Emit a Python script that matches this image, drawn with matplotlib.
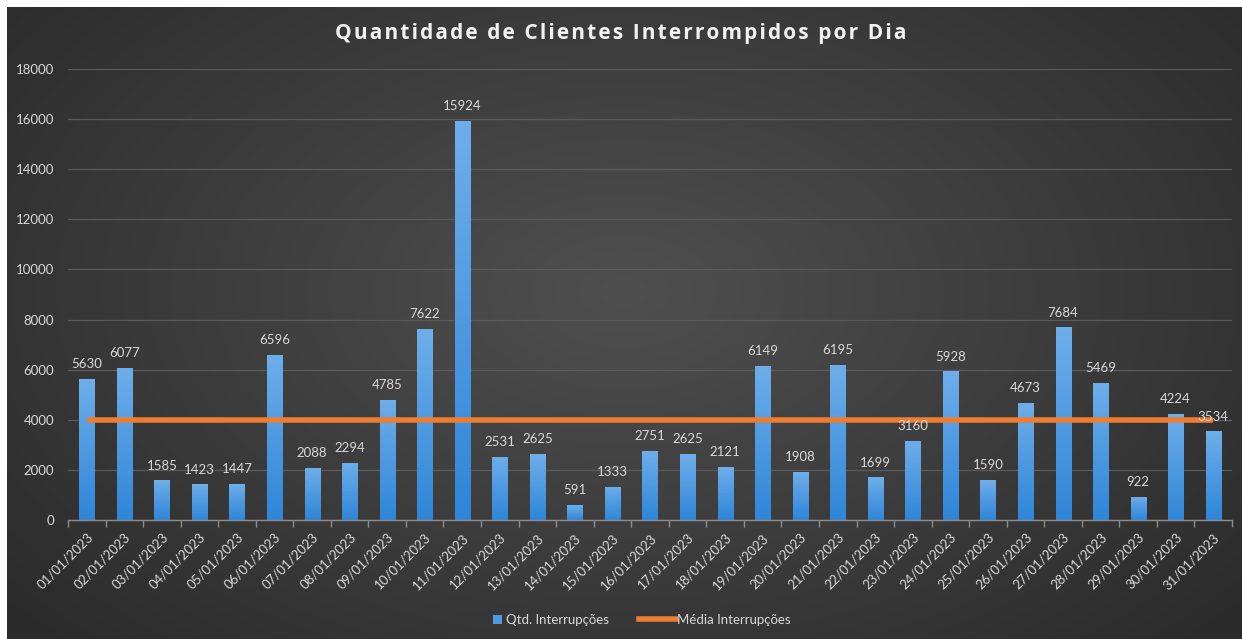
import numpy as np
import matplotlib
matplotlib.use("Agg")
import matplotlib.pyplot as plt
from matplotlib.lines import Line2D
from matplotlib.patches import Patch

plt.rcParams["font.family"] = ["Lato", "DejaVu Sans"]

dias = [f"{d:02d}/01/2023" for d in range(1, 32)]
qtd = [5630, 6077, 1585, 1423, 1447, 6596, 2088, 2294, 4785, 7622, 15924,
       2531, 2625, 591, 1333, 2751, 2625, 2121, 6149, 1908, 6195, 1699,
       3160, 5928, 1590, 4673, 7684, 5469, 922, 4224, 3534]
media = [3974] * 31
yticks = [0, 2000, 4000, 6000, 8000, 10000, 12000, 14000, 16000, 18000]
titulo = "Quantidade de Clientes Interrompidos por Dia"

W, H = 1242, 639
fig = plt.figure(figsize=(W / 100, H / 100), dpi=100)
fig.patch.set_facecolor("white")

# fundo escuro com gradiente radial (começa depois da borda branca de 7px)
bg = fig.add_axes([7 / W, 0, 1 - 7 / W, 1 - 7 / H])
yy, xx = np.mgrid[0:1:300j, 0:1:600j]
r = np.sqrt(((xx - 0.5) / 0.75) ** 2 + ((yy - 0.45) / 0.9) ** 2)
grad = np.clip(0.31 - 0.16 * r, 0.17, 0.31)
bg.imshow(np.dstack([grad, grad, grad]), aspect="auto", extent=[0, 1, 0, 1])
bg.set_axis_off()

ax = fig.add_axes([68 / W, 1 - 520 / H, (1232 - 68) / W, (520 - 69) / H])
ax.set_facecolor("none")
x = np.arange(len(dias))
ax.set_xlim(-0.5, len(dias) - 0.5)
ax.set_ylim(0, 18000)

bars = ax.bar(x, qtd, width=0.4, color="#4f9ae0", zorder=2)
# gradiente azul nas barras
gb = np.linspace(0, 1, 100).reshape(-1, 1)
cmap = matplotlib.colors.LinearSegmentedColormap.from_list("b", ["#2f86d8", "#6eaeea"])
for b in bars:
    xb, wb, hb = b.get_x(), b.get_width(), b.get_height()
    im = ax.imshow(gb, cmap=cmap, aspect="auto", origin="lower",
                   extent=[xb, xb + wb, 0, hb], zorder=2)
    im.set_clip_path(b)
    b.set_facecolor("none")

for xi, v in zip(x, qtd):
    ax.text(xi, v + 350, str(v), ha="center", va="bottom", fontsize=9.5,
            color="#d9d9d9", zorder=4)

ax.plot(x, media, color="#ed7d31", lw=4, zorder=3, solid_capstyle="butt")

ax.set_yticks(yticks)
ax.set_yticklabels([str(t) for t in yticks], fontsize=9.5, color="#d9d9d9")
ax.yaxis.grid(True, color="#5a5a5a", lw=0.9, zorder=0)
ax.tick_params(axis="y", length=0, pad=10)

ax.set_xticks(x)
ax.set_xticklabels(dias, rotation=45, ha="right", rotation_mode="anchor",
                   fontsize=9.5, color="#d9d9d9")
ax.tick_params(axis="x", which="major", length=0, pad=8)
ax.set_xticks(np.arange(-0.5, len(dias), 1), minor=True)
ax.tick_params(axis="x", which="minor", length=5, color="#8c8c8c", width=1)

for s in ["top", "right", "left"]:
    ax.spines[s].set_visible(False)
ax.spines["bottom"].set_color("#8c8c8c")
ax.spines["bottom"].set_linewidth(1)

# título com espaçamento entre letras (hair space)
fig.text(0.5, 1 - 33 / H, "\u200a".join(titulo),
         ha="center", va="center", fontsize=15, fontweight="bold",
         color="#f2f2f2", family=["Open Sans", "DejaVu Sans"])

# legenda: dois blocos para imitar o quadrado pequeno e a linha longa
leg1 = fig.legend(handles=[Patch(facecolor="#4f9ae0", label="Qtd. Interrupções")],
                  loc="center left", bbox_to_anchor=(481 / W, 1 - 620 / H),
                  frameon=False, fontsize=9.5, handlelength=0.7, handleheight=0.7,
                  handletextpad=0.3)
leg2 = fig.legend(handles=[Line2D([0], [0], color="#ed7d31", lw=4,
                                  label="Média Interrupções")],
                  loc="center left", bbox_to_anchor=(627 / W, 1 - 620 / H),
                  frameon=False, fontsize=9.5, handlelength=2.8,
                  handletextpad=0.1)
for leg in (leg1, leg2):
    for t in leg.get_texts():
        t.set_color("#d9d9d9")

fig.savefig("out.png", dpi=100)
